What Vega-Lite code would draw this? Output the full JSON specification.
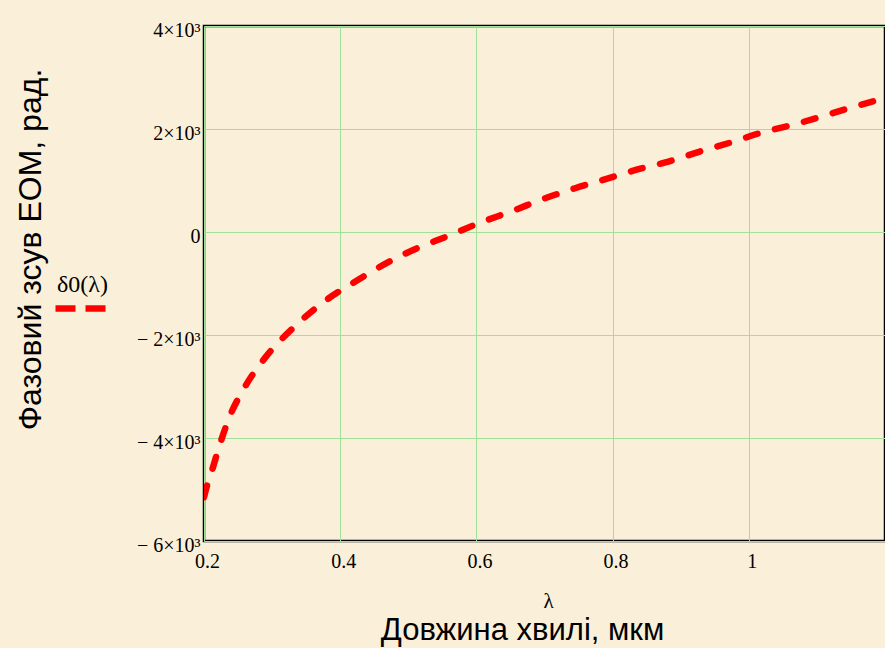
{
  "$schema": "https://vega.github.io/schema/vega-lite/v6.json",
  "width": 681,
  "height": 515,
  "autosize": {"type": "none"},
  "padding": {"left": 204, "top": 26, "right": 0, "bottom": 107},
  "background": "#faefd9",
  "config": {
    "view": {"stroke": "#000000", "strokeWidth": 2.5, "fill": null},
    "axis": {
      "labelFont": "Liberation Serif",
      "labelFontSize": 20,
      "labelColor": "#000000",
      "labelFlush": false,
      "gridColor": "#a0e098",
      "gridWidth": 1,
      "gridOpacity": 1,
      "ticks": false,
      "domain": false
    }
  },
  "title": {
    "text": "Довжина хвилі, мкм",
    "orient": "bottom",
    "anchor": "middle",
    "font": "Liberation Sans",
    "fontSize": 31,
    "fontWeight": "normal",
    "color": "#000000",
    "baseline": "top",
    "offset": 5,
    "dx": -22
  },
  "data": {
    "values": [
      {"lambda": 0.2, "phase": -5150},
      {"lambda": 0.205, "phase": -4900},
      {"lambda": 0.212, "phase": -4620},
      {"lambda": 0.221, "phase": -4222},
      {"lambda": 0.238, "phase": -3574},
      {"lambda": 0.258, "phase": -3054},
      {"lambda": 0.29, "phase": -2438},
      {"lambda": 0.334, "phase": -1823},
      {"lambda": 0.378, "phase": -1337},
      {"lambda": 0.424, "phase": -947},
      {"lambda": 0.47, "phase": -590},
      {"lambda": 0.516, "phase": -298},
      {"lambda": 0.558, "phase": -80},
      {"lambda": 0.607, "phase": 189},
      {"lambda": 0.654, "phase": 414},
      {"lambda": 0.698, "phase": 642},
      {"lambda": 0.745, "phase": 850},
      {"lambda": 0.791, "phase": 1031},
      {"lambda": 0.838, "phase": 1220},
      {"lambda": 0.882, "phase": 1368},
      {"lambda": 0.928, "phase": 1562},
      {"lambda": 0.975, "phase": 1745},
      {"lambda": 1.021, "phase": 1940},
      {"lambda": 1.065, "phase": 2082},
      {"lambda": 1.112, "phase": 2263},
      {"lambda": 1.158, "phase": 2446},
      {"lambda": 1.2, "phase": 2600}
    ]
  },
  "transform": [{"calculate": "'δ0(λ)'", "as": "series"}],
  "mark": {
    "type": "line",
    "strokeWidth": 6.5,
    "strokeDash": [12, 18],
    "strokeCap": "round",
    "interpolate": "monotone",
    "clip": true
  },
  "encoding": {
    "x": {
      "field": "lambda",
      "type": "quantitative",
      "scale": {"domain": [0.2, 1.2], "nice": false, "zero": false},
      "axis": {
        "values": [0.2, 0.4, 0.6, 0.8, 1.0],
        "labelExpr": "datum.value == 1 ? '1' : format(datum.value, '.1f')",
        "labelPadding": 10,
        "labelOffset": 3,
        "title": "λ",
        "titleFont": "Liberation Serif",
        "titleFontSize": 21,
        "titleFontWeight": "normal",
        "titleColor": "#000000",
        "titleX": 344,
        "titleY": 66,
        "titleBaseline": "alphabetic",
        "titleAlign": "center"
      }
    },
    "y": {
      "field": "phase",
      "type": "quantitative",
      "scale": {"domain": [-6000, 4000], "nice": false, "zero": false},
      "axis": {
        "values": [-6000, -4000, -2000, 0, 2000, 4000],
        "labelExpr": "datum.value == 0 ? '0' : (datum.value < 0 ? '− ' : '') + format(abs(datum.value) / 1000, 'd') + '×10³'",
        "labelPadding": 4,
        "labelOffset": 4,
        "title": "Фазовий зсув ЕОМ, рад.",
        "titleFont": "Liberation Sans",
        "titleFontSize": 32,
        "titleFontWeight": "normal",
        "titleColor": "#000000",
        "titleAngle": 270,
        "titleX": -164,
        "titleY": 223,
        "titleAlign": "center",
        "titleBaseline": "alphabetic"
      }
    },
    "color": {
      "field": "series",
      "type": "nominal",
      "scale": {"range": ["#ff0000"]},
      "legend": {
        "orient": "none",
        "legendX": -147,
        "legendY": 247,
        "title": "δ0(λ)",
        "titleFont": "Liberation Serif",
        "titleFontSize": 24,
        "titleFontWeight": "normal",
        "titleColor": "#000000",
        "titlePadding": 3,
        "symbolType": "M-5,0H5",
        "symbolSize": 100,
        "symbolOffset": 15,
        "symbolStrokeWidth": 6.5,
        "symbolDash": [20, 10],
        "symbolFillColor": "transparent",
        "labelFontSize": 1,
        "labelOpacity": 0,
        "labelColor": "transparent",
        "padding": 0
      }
    }
  }
}
